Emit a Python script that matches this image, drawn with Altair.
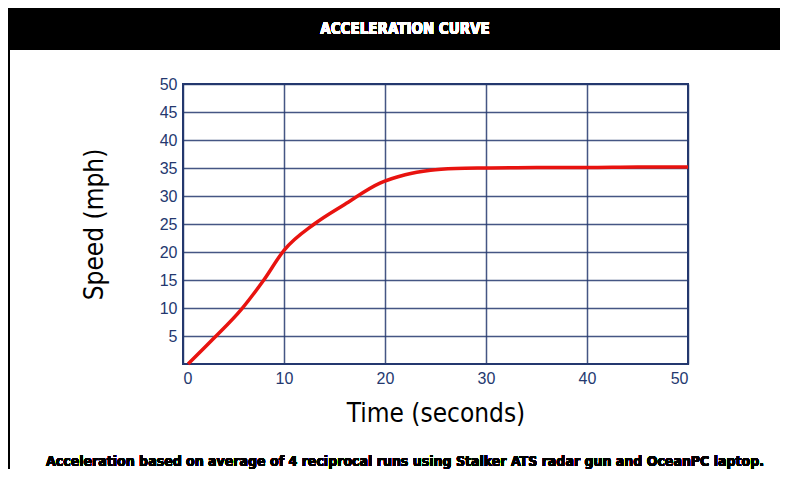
import altair as alt
import pandas as pd

time_s = [0.5, 3.0, 5.8, 8.0, 10.0, 13.0, 16.0, 19.5, 22.0, 24.5, 27.0, 30.0, 35.0, 40.0, 45.0, 50.0]
speed_mph = [0.0, 4.5, 9.8, 15.0, 20.3, 25.0, 28.5, 32.3, 33.8, 34.6, 34.9, 35.0, 35.1, 35.1, 35.2, 35.2]
x_ticks = [0, 10, 20, 30, 40, 50]
y_ticks = [5, 10, 15, 20, 25, 30, 35, 40, 45, 50]
title_text = "ACCELERATION CURVE"
caption_text = "Acceleration based on average of 4 reciprocal runs using Stalker ATS radar gun and OceanPC laptop."

df = pd.DataFrame({"t": time_s, "v": speed_mph})
navy = "#24386f"
cond_font = "DejaVu Sans Condensed, Liberation Sans Narrow, Liberation Sans, sans-serif"

W, H = 505, 280
PL, PT = 175, 76

line = alt.Chart(df).mark_line(color="#e8130f", strokeWidth=3.5, interpolate="monotone").encode(
    x=alt.X("t:Q", scale=alt.Scale(domain=[0, 50], nice=False),
            axis=alt.Axis(values=x_ticks, title="Time (seconds)", grid=True,
                          titleFontSize=26, titlePadding=14)),
    y=alt.Y("v:Q", scale=alt.Scale(domain=[0, 50], nice=False),
            axis=alt.Axis(values=y_ticks, title="Speed (mph)", grid=True,
                          titleFontSize=26, titlePadding=52)),
)

band = alt.Chart(df).mark_rect(color="black").encode(
    x=alt.value(-PL), x2=alt.value(W + 92), y=alt.value(-PT), y2=alt.value(-34)
)
left_edge = alt.Chart(df).mark_rule(color="black", strokeWidth=2).encode(
    x=alt.value(-PL + 1), y=alt.value(-PT), y2=alt.value(H + 105)
)
title = alt.Chart(df).mark_text(
    color="white", font=cond_font, fontSize=15, fontWeight="bold", align="center", baseline="middle"
).encode(x=alt.value(222), y=alt.value(-55), text=alt.value(title_text))
caption = alt.Chart(df).mark_text(
    color="black", font=cond_font, fontSize=14, fontWeight="bold", align="center", baseline="middle"
).encode(x=alt.value(405 - 183), y=alt.value(462 - 84), text=alt.value(caption_text))

chart = alt.layer(band, left_edge, title, caption, line).properties(
    width=W, height=H,
    autosize=alt.AutoSizeParams(type="none"),
    padding={"left": PL, "top": PT, "right": 92, "bottom": 105},
    background="white",
).configure_view(
    stroke=navy, strokeWidth=2
).configure_axis(
    domain=False, ticks=False, gridColor=navy, gridWidth=1.5, gridOpacity=0.85,
    labelColor=navy, labelFontSize=16, labelFont="Liberation Sans, Arial, sans-serif",
    titleColor="black", titleFont=cond_font, titleFontWeight="normal", labelPadding=6,
)

chart.save("out.html", embed_options={"renderer": "svg", "actions": False})
